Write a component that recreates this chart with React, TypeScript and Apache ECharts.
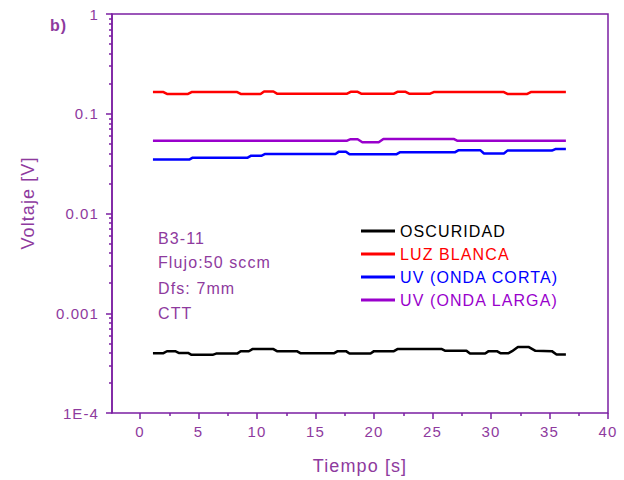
import React, { useEffect, useRef } from "react";
import * as echarts from "echarts";

const seriesNames = ["OSCURIDAD", "LUZ BLANCA", "UV (ONDA CORTA)", "UV (ONDA LARGA)"];
const seriesColors = ["#000000", "#ff0000", "#0000ff", "#9900cc"];

const tBlack = [1.1, 2.0, 2.3, 3.0, 3.3, 4.1, 4.4, 6.2, 6.5, 8.3, 8.6, 9.3, 9.6, 11.4, 11.7, 13.4, 13.7, 16.6, 16.9, 17.6, 17.9, 19.7, 20.0, 21.7, 22.0, 25.8, 26.1, 27.9, 28.2, 29.5, 29.8, 30.5, 30.8, 31.5, 31.8, 32.3, 33.2, 33.8, 35.2, 35.6, 36.4];
const vBlack = [3.98e-4, 3.98e-4, 4.16e-4, 4.16e-4, 4.0e-4, 4.0e-4, 3.83e-4, 3.83e-4, 3.94e-4, 3.94e-4, 4.16e-4, 4.16e-4, 4.37e-4, 4.37e-4, 4.17e-4, 4.17e-4, 3.98e-4, 3.98e-4, 4.17e-4, 4.17e-4, 3.94e-4, 3.94e-4, 4.17e-4, 4.17e-4, 4.37e-4, 4.37e-4, 4.2e-4, 4.2e-4, 3.94e-4, 3.94e-4, 4.17e-4, 4.17e-4, 3.98e-4, 3.98e-4, 4.17e-4, 4.6e-4, 4.6e-4, 4.2e-4, 4.17e-4, 3.86e-4, 3.86e-4];

const tRed = [1.1, 2.0, 2.3, 4.1, 4.4, 8.3, 8.6, 10.3, 10.6, 11.4, 11.7, 17.7, 18.0, 18.6, 18.9, 21.7, 22.0, 22.7, 23.0, 24.8, 25.1, 31.1, 31.4, 33.1, 33.4, 36.4];
const vRed = [0.165, 0.165, 0.158, 0.158, 0.165, 0.165, 0.158, 0.158, 0.167, 0.167, 0.159, 0.159, 0.166, 0.166, 0.159, 0.159, 0.166, 0.166, 0.159, 0.159, 0.165, 0.165, 0.158, 0.158, 0.165, 0.165];

const tBlue = [1.1, 4.2, 4.5, 9.2, 9.5, 10.4, 10.7, 16.7, 17.0, 17.6, 17.9, 21.9, 22.2, 26.9, 27.2, 29.1, 29.4, 31.1, 31.4, 35.2, 35.5, 36.4];
const vBlue = [0.0347, 0.0347, 0.0363, 0.0363, 0.038, 0.038, 0.0395, 0.0395, 0.0417, 0.0417, 0.0392, 0.0392, 0.041, 0.041, 0.043, 0.043, 0.040, 0.040, 0.0427, 0.0427, 0.0443, 0.0443];

const tPurple = [1.1, 17.7, 18.0, 18.6, 19.0, 20.4, 20.8, 26.8, 27.1, 36.4];
const vPurple = [0.0537, 0.0537, 0.0556, 0.0556, 0.0518, 0.0518, 0.0559, 0.0559, 0.0537, 0.0537];

const xMin = -2.4;
const xMax = 40;
const xTickStart = 0;
const xTickInterval = 5;
const yMin = 1e-4;
const yMax = 1;
const yLabelMap: Record<string, string> = { "1": "1", "0.1": "0.1", "0.01": "0.01", "0.001": "0.001", "0.0001": "1E-4" };

const annotations = ["B3-11", "Flujo:50 sccm", "Dfs: 7mm", "CTT"];

const AXIS = "#7b1fa2";
const TEXT = "#8e3a9e";
const FONT = "Liberation Sans";

const GRID_LEFT = 112;
const GRID_RIGHT = 16;
const GRID_TOP = 14;
const GRID_BOTTOM = 67;
const PLOT_W = 624 - GRID_LEFT - GRID_RIGHT;

export default function App() {
  const ref = useRef<HTMLDivElement>(null);
  useEffect(() => {
    const chart = echarts.init(ref.current!, null, { renderer: "svg" });
    const zip = (t: number[], v: number[]) => t.map((x, i) => [x, v[i]]);
    const data = [zip(tBlack, vBlack), zip(tRed, vRed), zip(tBlue, vBlue), zip(tPurple, vPurple)];
    const tickGridLeft = GRID_LEFT + ((xTickStart - xMin) / (xMax - xMin)) * PLOT_W;
    chart.setOption({
      animation: false,
      backgroundColor: "#ffffff",
      textStyle: { fontFamily: FONT },
      grid: [
        { left: GRID_LEFT, right: GRID_RIGHT, top: GRID_TOP, bottom: GRID_BOTTOM, show: true, borderColor: AXIS, borderWidth: 1.5, backgroundColor: "transparent" },
        { left: tickGridLeft, right: GRID_RIGHT, top: GRID_TOP, bottom: GRID_BOTTOM, show: false },
      ],
      xAxis: [
        { type: "value", gridIndex: 0, min: xMin, max: xMax, show: false, splitLine: { show: false } },
        {
          type: "value",
          gridIndex: 1,
          min: xTickStart,
          max: xMax,
          interval: xTickInterval,
          splitLine: { show: false },
          axisLine: { show: false },
          axisTick: { show: true, length: 6, lineStyle: { color: AXIS, width: 1.5 } },
          minorTick: { show: true, splitNumber: 2, length: 3, lineStyle: { color: AXIS, width: 1.5 } },
          axisLabel: { color: TEXT, fontSize: 15, fontFamily: FONT, margin: 11 },
        },
      ],
      yAxis: [
        {
          type: "log",
          gridIndex: 0,
          logBase: 10,
          min: yMin,
          max: yMax,
          splitLine: { show: false },
          axisLine: { show: true, onZero: false, lineStyle: { color: AXIS, width: 1.5 } },
          axisTick: { show: true, length: 6, lineStyle: { color: AXIS, width: 1.5 } },
          minorTick: { show: true, splitNumber: 9, length: 3, lineStyle: { color: AXIS, width: 1.5 } },
          axisLabel: {
            color: TEXT,
            fontSize: 15,
            fontFamily: FONT,
            margin: 13,
            formatter: (v: number) => yLabelMap[String(+v.toPrecision(3))] ?? "",
          },
        },
        { type: "value", gridIndex: 1, show: false, min: 0, max: 1 },
      ],
      legend: {
        orient: "vertical",
        left: 361,
        top: 223,
        padding: 0,
        itemWidth: 34,
        itemHeight: 3,
        itemGap: 7,
        icon: "rect",
        data: seriesNames.map((n, i) => ({ name: n, textStyle: { color: seriesColors[i] } })),
        textStyle: { fontSize: 16, fontFamily: FONT, lineHeight: 14 },
      },
      graphic: [
        { type: "text", x: 50, y: 25, style: { text: "b)", fill: TEXT, font: "bold 16px " + FONT, verticalAlign: "middle" } },
        {
          type: "text",
          x: 28,
          y: 203,
          rotation: Math.PI / 2,
          style: { text: "Voltaje [V]", fill: TEXT, font: "18px " + FONT, align: "center", verticalAlign: "middle" },
        },
        {
          type: "text",
          x: 360,
          y: 466,
          style: { text: "Tiempo [s]", fill: TEXT, font: "18px " + FONT, align: "center", verticalAlign: "middle" },
        },
        ...annotations.map((a, i) => ({
          type: "text",
          x: 158,
          y: [238, 262, 288, 313][i],
          style: { text: a, fill: TEXT, font: "16px " + FONT, verticalAlign: "middle" },
        })),
      ],
      series: data.map((d, i) => ({
        name: seriesNames[i],
        type: "line",
        xAxisIndex: 0,
        yAxisIndex: 0,
        data: d,
        showSymbol: false,
        symbol: "none",
        color: seriesColors[i],
        lineStyle: { color: seriesColors[i], width: 2.5 },
      })),
    });
    return () => chart.dispose();
  }, []);
  return (
    <div
      ref={ref}
      style={{ width: 624, height: 480, position: "absolute", left: 0, top: 0, letterSpacing: "1.1px" }}
    />
  );
}
